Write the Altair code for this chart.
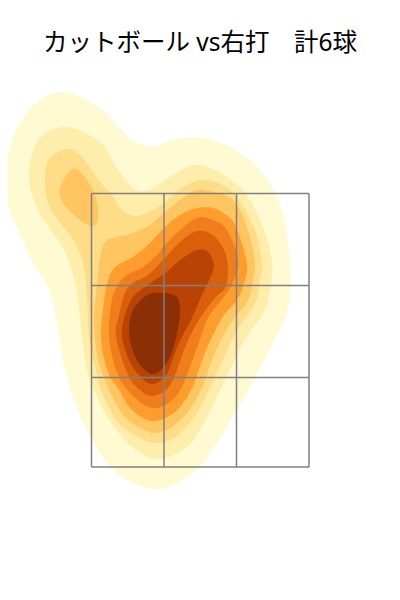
import altair as alt
import pandas as pd

# Contours, as (horizontal, vertical) location pairs
band1 = [(63,92),(36,103),(14,135),(5,175),(8,205),(17,228),(33,262),(50,292),(58,330),(65,370),(75,403),(92,440),(117,473),(157,489),(193,473),(217,443),(250,387),(273,343),(287,313),(291,280),(290,263),(282,210),(260,170),(230,147),(197,137),(167,142),(150,147),(130,138),(100,108)]
band2 = [(67,127),(40,138),(29,172),(37,208),(63,248),(73,275),(78,300),(82,337),(87,370),(95,392),(108,418),(130,445),(157,459),(184,449),(198,433),(209,413),(230,370),(243,343),(263,313),(270,290),(272,263),(263,227),(240,187),(200,165),(170,177),(150,190),(133,188),(117,168),(100,142)]
band3 = [(68,149),(50,158),(45,178),(50,208),(72,238),(83,262),(87,295),(89,337),(97,375),(103,395),(118,422),(140,438),(157,443),(177,436),(197,413),(211,385),(223,360),(237,330),(255,303),(260,280),(262,263),(255,230),(233,193),(207,180),(185,186),(165,202),(153,210),(135,216),(120,208),(112,195),(100,182),(82,157)]
band4a = [(72,169),(60,188),(63,203),(80,220),(93,226),(98,217),(95,195),(83,175)]
band4b = [(165,212),(150,225),(133,233),(117,237),(105,242),(100,258),(97,285),(94,320),(97,355),(102,372),(110,392),(125,417),(145,430),(155,433),(172,427),(190,409),(203,385),(214,355),(228,327),(248,300),(253,280),(255,263),(247,227),(233,200),(213,192),(197,190),(180,200)]
band5 = [(150,243),(133,257),(118,265),(110,275),(105,295),(101,337),(108,372),(118,388),(132,410),(153,421),(175,412),(190,392),(197,375),(206,350),(222,318),(237,300),(245,280),(247,263),(238,232),(230,218),(213,208),(197,208),(180,215),(165,227)]
band6 = [(157,255),(143,267),(127,275),(118,285),(112,300),(109,337),(118,375),(135,398),(152,408),(167,404),(179,392),(187,375),(198,345),(208,318),(225,295),(235,278),(238,258),(227,230),(213,220),(197,218),(180,230),(165,245)]
band7 = [(165,258),(148,275),(133,283),(125,293),(119,315),(116,337),(128,375),(140,390),(152,396),(166,390),(175,375),(186,345),(200,318),(215,298),(225,288),(228,272),(225,252),(213,235),(197,231),(180,242)]
band8 = [(165,273),(145,287),(133,297),(125,315),(122,337),(130,362),(140,376),(150,384),(160,381),(168,372),(178,345),(192,318),(202,295),(210,278),(214,265),(208,252),(197,250),(183,258)]
band9 = [(153,293),(165,293),(177,297),(180,310),(178,328),(172,352),(163,368),(152,374),(140,365),(132,348),(129,328),(133,310),(143,298)]

bands = [band1, band2, band3, band4a, band4b, band5, band6, band7, band8, band9]
band_colors = ["#fffad2", "#ffedab", "#fedc88", "#fec561", "#fec561", "#fe9c2e", "#f07e1c", "#d95f0b", "#b84305", "#8a2f06"]

zone_x = [91.5, 164, 236.5, 309]
zone_y = [193.5, 285.5, 377.5, 467]
title_text = "カットボール vs右打　計6球"

X = alt.Scale(domain=[8, 392], range=[0, 384])
Y = alt.Scale(domain=[70, 592], range=[0, 522])
ax_x = alt.X("x:Q", scale=X, axis=None)
ax_y = alt.Y("y:Q", scale=Y, axis=None)

layers = []
for pts, col in zip(bands, band_colors):
    df = pd.DataFrame(pts, columns=["x", "y"]).assign(i=lambda d: d.index)
    layers.append(
        alt.Chart(df).mark_line(interpolate="cardinal-closed", filled=True, fill=col, stroke=col, strokeWidth=0.01, clip=False)
        .encode(x=ax_x, y=ax_y, order="i:Q")
    )

v = pd.DataFrame({"x": zone_x, "y": zone_y[0], "y2": zone_y[-1]})
h = pd.DataFrame({"y": zone_y, "x": zone_x[0], "x2": zone_x[-1]})
style = dict(color="#808080", strokeWidth=1.5)
layers.append(alt.Chart(v).mark_rule(**style).encode(x=ax_x, y=ax_y, y2="y2:Q"))
layers.append(alt.Chart(h).mark_rule(**style).encode(x=ax_x, x2="x2:Q", y=ax_y))

chart = alt.layer(*layers).properties(
    width=384, height=522,
    padding={"left": 0, "top": 62, "right": 0, "bottom": 0},
    autosize=alt.AutoSizeParams(type="none"),
    title=alt.TitleParams(title_text, font="Noto Sans, Noto Sans CJK JP", fontSize=24.5, fontWeight="normal", color="#000000", anchor="middle", offset=14),
).configure_view(stroke=None)

chart.save("out.html", embed_options={"renderer": "svg", "actions": False})
